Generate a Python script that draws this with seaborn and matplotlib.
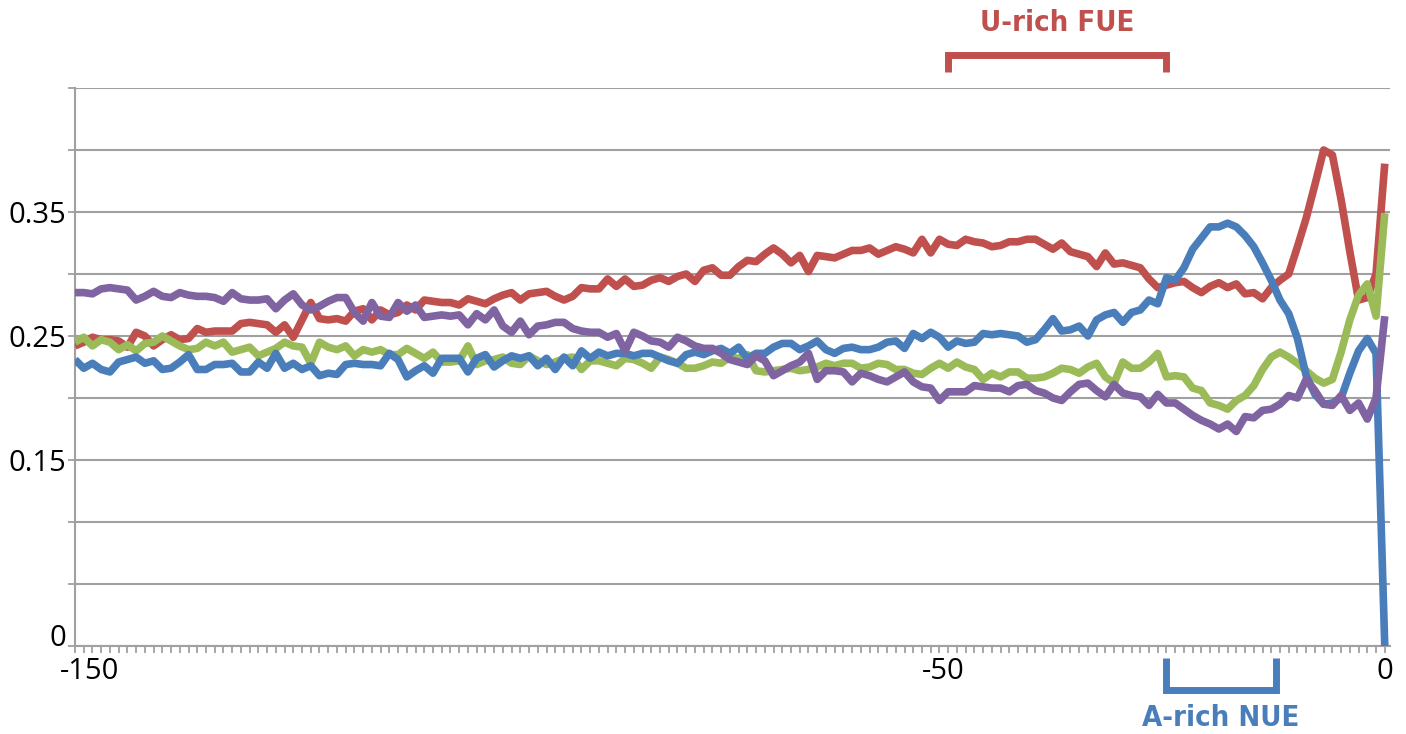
import matplotlib
matplotlib.use("Agg")
import numpy as np
import pandas as pd
import matplotlib.pyplot as plt
import matplotlib.transforms as mtransforms
import seaborn as sns

# positions upstream of the cleavage site
positions = list(range(-150, 1))

# nucleotide frequencies, -150 .. 0
freq_A = [0.231, 0.224, 0.228, 0.223, 0.221, 0.229, 0.231, 0.233, 0.228, 0.230, 0.223, 0.224, 0.229, 0.235, 0.223, 0.223, 0.227, 0.227, 0.228, 0.221, 0.221, 0.229, 0.224, 0.236, 0.224,
          0.228, 0.223, 0.226, 0.218, 0.220, 0.219, 0.227, 0.228, 0.227, 0.227, 0.226, 0.236, 0.231, 0.217, 0.222, 0.226, 0.220, 0.232, 0.232, 0.232, 0.221, 0.232, 0.235, 0.225, 0.230,
          0.234, 0.232, 0.234, 0.226, 0.232, 0.223, 0.233, 0.226, 0.238, 0.232, 0.237, 0.234, 0.236, 0.236, 0.234, 0.236, 0.236, 0.233, 0.230, 0.228, 0.235, 0.237, 0.235, 0.238, 0.240,
          0.236, 0.241, 0.232, 0.236, 0.236, 0.241, 0.244, 0.244, 0.239, 0.242, 0.246, 0.239, 0.236, 0.240, 0.241, 0.239, 0.239, 0.241, 0.245, 0.246, 0.240, 0.252, 0.248, 0.253, 0.249, 0.241,
          0.246, 0.244, 0.245, 0.252, 0.251, 0.252, 0.251, 0.250, 0.245, 0.247, 0.255, 0.264, 0.254, 0.255, 0.258, 0.250, 0.263, 0.267, 0.269, 0.261, 0.269, 0.271, 0.279, 0.276, 0.297,
          0.295, 0.305, 0.320, 0.329, 0.338, 0.338, 0.341, 0.338, 0.331, 0.322, 0.309, 0.295, 0.279, 0.268, 0.248, 0.218, 0.203, 0.195, 0.196, 0.200, 0.220, 0.238, 0.248, 0.236, 0.0]

freq_U = [0.242, 0.245, 0.249, 0.247, 0.247, 0.246, 0.241, 0.253, 0.250, 0.242, 0.247, 0.251, 0.247, 0.248, 0.256, 0.253, 0.254, 0.254, 0.254, 0.260, 0.261, 0.260, 0.259, 0.253, 0.259,
          0.249, 0.263, 0.277, 0.264, 0.263, 0.264, 0.262, 0.270, 0.272, 0.263, 0.271, 0.267, 0.269, 0.275, 0.271, 0.279, 0.278, 0.277, 0.277, 0.275, 0.280, 0.278, 0.276, 0.280, 0.283,
          0.285, 0.279, 0.284, 0.285, 0.286, 0.282, 0.279, 0.282, 0.289, 0.288, 0.288, 0.296, 0.290, 0.296, 0.290, 0.291, 0.295, 0.297, 0.294, 0.298, 0.300, 0.294, 0.303, 0.305, 0.299,
          0.299, 0.306, 0.311, 0.310, 0.316, 0.321, 0.316, 0.309, 0.315, 0.302, 0.315, 0.314, 0.313, 0.316, 0.319, 0.319, 0.321, 0.316, 0.319, 0.322, 0.320, 0.317, 0.328, 0.317, 0.328, 0.324,
          0.323, 0.328, 0.326, 0.325, 0.322, 0.323, 0.326, 0.326, 0.328, 0.328, 0.324, 0.320, 0.325, 0.318, 0.316, 0.314, 0.306, 0.317, 0.308, 0.309, 0.307, 0.305, 0.296, 0.289, 0.291,
          0.293, 0.294, 0.289, 0.285, 0.290, 0.293, 0.289, 0.292, 0.284, 0.285, 0.280, 0.289, 0.295, 0.300, 0.322, 0.345, 0.372, 0.400, 0.396, 0.360, 0.318, 0.279, 0.281, 0.300, 0.389]

freq_G = [0.245, 0.249, 0.242, 0.247, 0.245, 0.239, 0.243, 0.238, 0.244, 0.245, 0.250, 0.246, 0.242, 0.239, 0.240, 0.245, 0.242, 0.245, 0.237, 0.239, 0.241, 0.234, 0.237, 0.240, 0.245,
          0.242, 0.241, 0.228, 0.245, 0.241, 0.239, 0.242, 0.234, 0.239, 0.237, 0.239, 0.235, 0.235, 0.240, 0.236, 0.232, 0.237, 0.229, 0.229, 0.230, 0.242, 0.227, 0.230, 0.231, 0.233,
          0.228, 0.227, 0.234, 0.230, 0.227, 0.229, 0.232, 0.233, 0.223, 0.230, 0.230, 0.228, 0.226, 0.232, 0.231, 0.228, 0.224, 0.233, 0.231, 0.228, 0.224, 0.224, 0.226, 0.229, 0.228,
          0.233, 0.232, 0.235, 0.222, 0.221, 0.222, 0.223, 0.224, 0.222, 0.223, 0.225, 0.228, 0.226, 0.228, 0.228, 0.224, 0.225, 0.228, 0.227, 0.223, 0.223, 0.220, 0.219, 0.224, 0.228, 0.224,
          0.229, 0.225, 0.223, 0.215, 0.220, 0.217, 0.221, 0.221, 0.216, 0.216, 0.217, 0.220, 0.224, 0.223, 0.220, 0.225, 0.228, 0.217, 0.212, 0.229, 0.224, 0.224, 0.229, 0.236, 0.217,
          0.218, 0.217, 0.208, 0.206, 0.196, 0.194, 0.191, 0.198, 0.202, 0.210, 0.223, 0.233, 0.237, 0.233, 0.228, 0.222, 0.216, 0.212, 0.215, 0.237, 0.263, 0.283, 0.292, 0.266, 0.349]

freq_C = [0.285, 0.285, 0.284, 0.288, 0.289, 0.288, 0.287, 0.279, 0.282, 0.286, 0.282, 0.281, 0.285, 0.283, 0.282, 0.282, 0.281, 0.278, 0.285, 0.280, 0.279, 0.279, 0.280, 0.272, 0.279,
          0.284, 0.275, 0.271, 0.274, 0.278, 0.281, 0.281, 0.269, 0.262, 0.277, 0.266, 0.265, 0.277, 0.270, 0.275, 0.265, 0.266, 0.267, 0.266, 0.267, 0.259, 0.268, 0.263, 0.271, 0.258,
          0.253, 0.262, 0.251, 0.258, 0.259, 0.261, 0.261, 0.256, 0.254, 0.253, 0.253, 0.249, 0.252, 0.238, 0.253, 0.250, 0.246, 0.245, 0.241, 0.249, 0.246, 0.242, 0.240, 0.240, 0.236,
          0.231, 0.229, 0.227, 0.234, 0.230, 0.218, 0.222, 0.226, 0.229, 0.236, 0.215, 0.222, 0.222, 0.221, 0.213, 0.220, 0.218, 0.215, 0.213, 0.217, 0.221, 0.213, 0.209, 0.208, 0.198, 0.205,
          0.205, 0.205, 0.210, 0.209, 0.208, 0.208, 0.205, 0.210, 0.211, 0.206, 0.204, 0.200, 0.198, 0.205, 0.211, 0.212, 0.206, 0.201, 0.211, 0.204, 0.202, 0.201, 0.194, 0.203, 0.196,
          0.196, 0.191, 0.186, 0.182, 0.179, 0.175, 0.179, 0.173, 0.185, 0.184, 0.190, 0.191, 0.195, 0.202, 0.200, 0.215, 0.206, 0.195, 0.194, 0.202, 0.190, 0.196, 0.183, 0.200, 0.266]

# annotated regions
fue_range = [-50, -25]
nue_range = [-25, -12.5]

x_ticks = [-150, -50, 0]
y_ticks = [0, 0.05, 0.10, 0.15, 0.20, 0.25, 0.30, 0.35, 0.40, 0.45]
y_shown = {0: "0", 0.15: "0.15", 0.25: "0.25", 0.35: "0.35"}

palette = {"A": "#4A7EBB", "U": "#C0504D", "G": "#9BBB59", "C": "#8064A2"}

df = pd.DataFrame({"pos": positions, "A": freq_A, "U": freq_U, "G": freq_G, "C": freq_C})
long_df = df.melt(id_vars="pos", var_name="base", value_name="freq")

sns.set_style("white")
plt.rcParams["font.family"] = ["Open Sans", "DejaVu Sans"]

fig = plt.figure(figsize=(14.06, 7.34), dpi=100)
ax = fig.add_axes([75 / 1406, 88 / 734, 1315 / 1406, 558 / 734])

sns.lineplot(data=long_df, x="pos", y="freq", hue="base", hue_order=["U", "G", "A", "C"],
             palette=palette, linewidth=5.5, legend=False, ax=ax,
             solid_joinstyle="round", solid_capstyle="butt")

ax.set_xlim(-150, 0.6)
ax.set_ylim(0, 0.45)
ax.set_xlabel("")
ax.set_ylabel("")

grey = "#A0A0A0"
for s in ["top", "right"]:
    ax.spines[s].set_visible(False)
for s in ["left", "bottom"]:
    ax.spines[s].set_color(grey)
    ax.spines[s].set_linewidth(1.5)
    ax.spines[s].set_zorder(0.5)

ax.yaxis.grid(True, color=grey, linewidth=1.5, zorder=0)
ax.xaxis.grid(False)
ax.set_axisbelow(True)

ax.set_yticks(y_ticks)
ax.set_yticklabels([y_shown.get(round(v, 2), "") for v in y_ticks])
ax.set_xticks(x_ticks)
ax.set_xticklabels([str(v) for v in x_ticks])
ax.set_xticks(positions, minor=True)

ax.tick_params(axis="both", which="both", direction="out", color=grey, width=1.3, labelsize=21,
               labelcolor="black", bottom=True, left=True)
ax.tick_params(axis="x", which="both", length=5, pad=3)
ax.tick_params(axis="y", which="major", length=5, pad=1)

# excel style label nudges
for lbl in ax.get_yticklabels():
    if lbl.get_text() == "0":
        lbl.set_verticalalignment("baseline")
for lbl in ax.get_xticklabels():
    if lbl.get_text() == "-150":
        lbl.set_transform(lbl.get_transform() + mtransforms.ScaledTranslation(0.15, 0, fig.dpi_scale_trans))
    if lbl.get_text() == "-50":
        lbl.set_transform(lbl.get_transform() + mtransforms.ScaledTranslation(-0.05, 0, fig.dpi_scale_trans))

# region brackets
tr = ax.get_xaxis_transform()
narrow = ["Liberation Sans Narrow", "DejaVu Sans Condensed", "DejaVu Sans"]
ax.plot([fue_range[0], fue_range[0], fue_range[1], fue_range[1]], [1.029, 1.059, 1.059, 1.029],
        transform=tr, clip_on=False, color=palette["U"], linewidth=5,
        solid_joinstyle="miter", solid_capstyle="butt")
ax.text(np.mean(fue_range), 1.116, "U-rich FUE", transform=tr, ha="center", va="center",
        color=palette["U"], fontsize=21, fontweight="bold", fontstretch="condensed", family=narrow)

ax.plot([nue_range[0], nue_range[0], nue_range[1], nue_range[1]], [-0.0215, -0.0797, -0.0797, -0.0215],
        transform=tr, clip_on=False, color=palette["A"], linewidth=5,
        solid_joinstyle="miter", solid_capstyle="butt")
ax.text(np.mean(nue_range), -0.129, "A-rich NUE", transform=tr, ha="center", va="center",
        color=palette["A"], fontsize=21, fontweight="bold", fontstretch="condensed", family=narrow)

fig.savefig("out.png", dpi=100)
